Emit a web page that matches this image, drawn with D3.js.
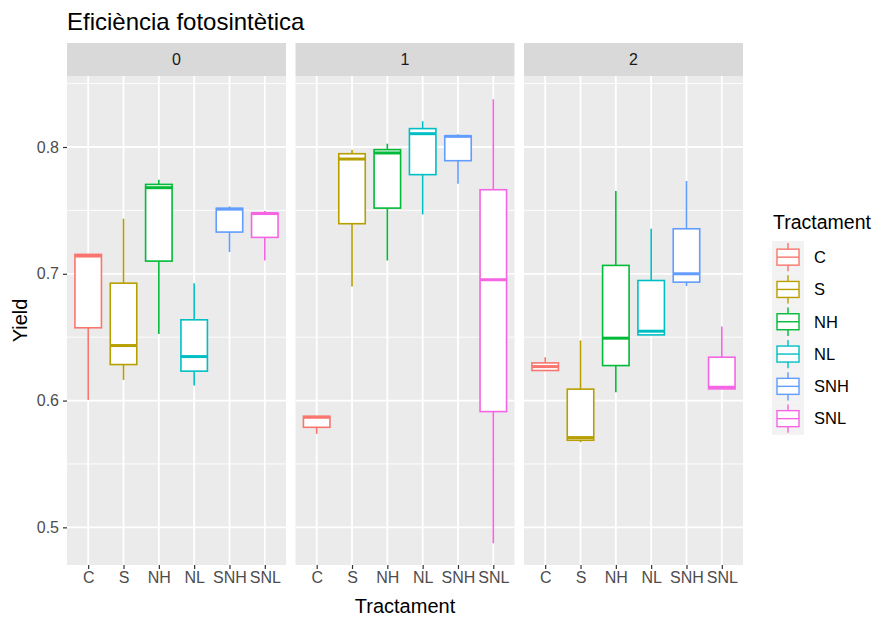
<!DOCTYPE html>
<html>
<head>
<meta charset="utf-8">
<script src="https://cdn.jsdelivr.net/npm/d3@7"></script>
<style>
  body { margin: 0; background: #fff; }
  text { font-family: "Liberation Sans", Arial, sans-serif; }
</style>
</head>
<body>
<div id="chart"></div>
<script>
// facets and treatments
const facets = ["0", "1", "2"];
const categories = ["C", "S", "NH", "NL", "SNH", "SNL"];
const colors = ["#F8766D", "#B79F00", "#00BA38", "#00BFC4", "#619CFF", "#F564E3"];

// box stats per facet, one value per treatment
const lowerWhisker = [
  [0.6005, 0.6163, 0.6526, 0.6118, 0.7171, 0.7105],
  [0.5737, 0.6900, 0.7105, 0.7468, 0.7711, 0.4874],
  [0.6237, 0.5671, 0.6066, 0.6516, 0.6903, 0.6092]
];
const q1 = [
  [0.6574, 0.6284, 0.7100, 0.6232, 0.7329, 0.7287],
  [0.5789, 0.7395, 0.7518, 0.7782, 0.7892, 0.5913],
  [0.6237, 0.5687, 0.6276, 0.6518, 0.6934, 0.6092]
];
const median = [
  [0.7140, 0.6434, 0.7679, 0.6347, 0.7510, 0.7475],
  [0.5868, 0.7905, 0.7953, 0.8105, 0.8084, 0.6953],
  [0.6268, 0.5708, 0.6492, 0.6547, 0.7000, 0.6105]
];
const q3 = [
  [0.7153, 0.6926, 0.7705, 0.6637, 0.7516, 0.7479],
  [0.5876, 0.7947, 0.7979, 0.8145, 0.8087, 0.7663],
  [0.6297, 0.6090, 0.7066, 0.6947, 0.7355, 0.6342]
];
const upperWhisker = [
  [0.7153, 0.7434, 0.7742, 0.6926, 0.7532, 0.7495],
  [0.5876, 0.7979, 0.8026, 0.8203, 0.8100, 0.8376],
  [0.6342, 0.6474, 0.7653, 0.7355, 0.7732, 0.6584]
];
const yTicks = [0.5, 0.6, 0.7, 0.8];
const yMinor = [0.55, 0.65, 0.75, 0.85];

const W = 879, H = 617;
const panelLeft = 67, panelW = 219, gap = 9.5;
const panelTop = 76, panelBottom = 565, stripH = 33;
const tickFont = 16;

const svg = d3.select("#chart").append("svg")
  .attr("width", W).attr("height", H);

const y = d3.scaleLinear().domain([0.4703, 0.856]).range([panelBottom, panelTop]);

// title
svg.append("text")
  .attr("x", 67).attr("y", 30)
  .attr("font-size", 24).attr("fill", "#000")
  .text("Eficiència fotosintètica");

facets.forEach((f, fi) => {
  const x0 = panelLeft + fi * (panelW + gap);
  const x = d3.scalePoint().domain(categories).range([x0, x0 + panelW]).padding(0.6);
  const bw = x.step() * 0.75;

  const g = svg.append("g");
  // strip
  g.append("rect").attr("x", x0).attr("y", panelTop - stripH)
    .attr("width", panelW).attr("height", stripH).attr("fill", "#D9D9D9");
  g.append("text").attr("x", x0 + panelW / 2).attr("y", panelTop - stripH / 2)
    .attr("dy", "0.35em").attr("text-anchor", "middle")
    .attr("font-size", tickFont).attr("fill", "#1A1A1A").text(f);

  // panel
  g.append("rect").attr("x", x0).attr("y", panelTop)
    .attr("width", panelW).attr("height", panelBottom - panelTop).attr("fill", "#EBEBEB");

  g.selectAll(".minor").data(yMinor).enter().append("line")
    .attr("x1", x0).attr("x2", x0 + panelW)
    .attr("y1", d => y(d)).attr("y2", d => y(d))
    .attr("stroke", "#fff").attr("stroke-width", 0.9);
  g.selectAll(".major").data(yTicks).enter().append("line")
    .attr("x1", x0).attr("x2", x0 + panelW)
    .attr("y1", d => y(d)).attr("y2", d => y(d))
    .attr("stroke", "#fff").attr("stroke-width", 1.8);
  g.selectAll(".vgrid").data(categories).enter().append("line")
    .attr("x1", d => x(d)).attr("x2", d => x(d))
    .attr("y1", panelTop).attr("y2", panelBottom)
    .attr("stroke", "#fff").attr("stroke-width", 1.8);

  // boxes
  categories.forEach((c, ci) => {
    const cx = x(c), col = colors[ci];
    g.append("line").attr("x1", cx).attr("x2", cx)
      .attr("y1", y(upperWhisker[fi][ci])).attr("y2", y(q3[fi][ci]))
      .attr("stroke", col).attr("stroke-width", 1.6);
    g.append("line").attr("x1", cx).attr("x2", cx)
      .attr("y1", y(q1[fi][ci])).attr("y2", y(lowerWhisker[fi][ci]))
      .attr("stroke", col).attr("stroke-width", 1.6);
    g.append("rect").attr("x", cx - bw / 2).attr("y", y(q3[fi][ci]))
      .attr("width", bw).attr("height", Math.max(0.5, y(q1[fi][ci]) - y(q3[fi][ci])))
      .attr("fill", "#fff").attr("stroke", col).attr("stroke-width", 1.6);
    g.append("line").attr("x1", cx - bw / 2).attr("x2", cx + bw / 2)
      .attr("y1", y(median[fi][ci])).attr("y2", y(median[fi][ci]))
      .attr("stroke", col).attr("stroke-width", 3);
  });

  // x axis
  const xa = g.append("g").attr("transform", `translate(0,${panelBottom})`)
    .call(d3.axisBottom(x).tickSize(4).tickPadding(3));
  xa.select(".domain").remove();
  xa.selectAll("line").attr("stroke", "#333").attr("stroke-width", 1.2);
  xa.selectAll("text").attr("font-size", tickFont).attr("fill", "#4D4D4D")
    .style("font-family", "Liberation Sans, Arial, sans-serif");
});

// y axis
const ya = svg.append("g").attr("transform", `translate(${panelLeft},0)`)
  .call(d3.axisLeft(y).tickValues(yTicks).tickFormat(d3.format(".1f")).tickSize(4).tickPadding(4));
ya.select(".domain").remove();
ya.selectAll("line").attr("stroke", "#333").attr("stroke-width", 1.2);
ya.selectAll("text").attr("font-size", tickFont).attr("fill", "#4D4D4D")
  .style("font-family", "Liberation Sans, Arial, sans-serif");

// axis titles
svg.append("text").attr("x", panelLeft + (3 * panelW + 2 * gap) / 2).attr("y", 613)
  .attr("text-anchor", "middle").attr("font-size", 20).attr("fill", "#000").text("Tractament");
svg.append("text").attr("transform", `translate(27,${(panelTop + panelBottom) / 2}) rotate(-90)`)
  .attr("text-anchor", "middle").attr("font-size", 20).attr("fill", "#000").text("Yield");

// legend
const lg = svg.append("g");
lg.append("text").attr("x", 773).attr("y", 229).attr("font-size", 19.5).attr("fill", "#000").text("Tractament");
const keyH = 32.3, keyTop = 241, keyX = 772, keyW = 32;
categories.forEach((c, i) => {
  const ky = keyTop + i * keyH, cy = ky + keyH / 2, cx = keyX + keyW / 2;
  lg.append("rect").attr("x", keyX).attr("y", ky).attr("width", keyW).attr("height", keyH).attr("fill", "#F2F2F2");
  lg.append("line").attr("x1", cx).attr("x2", cx).attr("y1", ky + 2).attr("y2", ky + keyH - 2)
    .attr("stroke", colors[i]).attr("stroke-width", 1.4);
  lg.append("rect").attr("x", keyX + 5).attr("y", cy - 8).attr("width", keyW - 10).attr("height", 16)
    .attr("fill", "#fff").attr("stroke", colors[i]).attr("stroke-width", 1.4);
  lg.append("line").attr("x1", keyX + 5).attr("x2", keyX + keyW - 5).attr("y1", cy).attr("y2", cy)
    .attr("stroke", colors[i]).attr("stroke-width", 1.4);
  lg.append("text").attr("x", 814).attr("y", cy).attr("dy", "0.35em")
    .attr("font-size", 16.5).attr("fill", "#000").text(c);
});
</script>
</body>
</html>
